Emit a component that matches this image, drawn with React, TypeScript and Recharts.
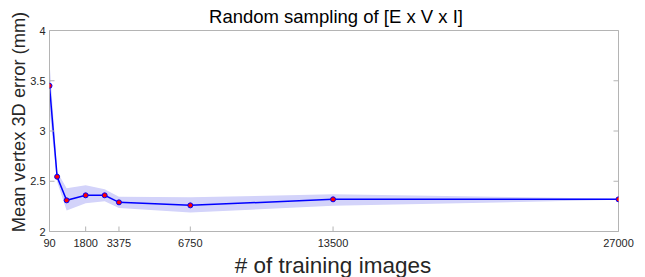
import React from 'react';
import { ComposedChart, Area, Line, XAxis, YAxis } from 'recharts';

// Number of training images (x) and mean vertex error (y, mm)
const trainingImages = [90, 450, 900, 1800, 2700, 3375, 6750, 13500, 27000];
const meanError = [3.45, 2.545, 2.31, 2.36, 2.36, 2.29, 2.26, 2.32, 2.32];
const errorLow = [3.21, 2.495, 2.21, 2.28, 2.3, 2.235, 2.19, 2.255, 2.315];
const errorHigh = [3.69, 2.595, 2.43, 2.46, 2.42, 2.345, 2.34, 2.37, 2.325];

const xTicks = [90, 1800, 3375, 6750, 13500, 27000];
const yTicks = [2, 2.5, 3, 3.5, 4];

const titleText = 'Random sampling of [E x V x I]';
const xLabelText = '# of training images';
const yLabelText = 'Mean vertex 3D error (mm)';

const data = trainingImages.map((n, i) => ({
  n,
  mean: meanError[i],
  band: [errorLow[i], errorHigh[i]],
}));

const AXIS = '#b4b4b4';
const TEXT = '#262626';
const FONT = '"Liberation Sans", Arial, Helvetica, sans-serif';

function BottomTick(props: any) {
  const { x, y, payload } = props;
  return (
    <g>
      <line x1={x} y1={y} x2={x} y2={y - 5} stroke={AXIS} strokeWidth={1} />
      <text x={x} y={y + 15.5} textAnchor="middle" fontSize={11} fontFamily={FONT} fill={TEXT}>
        {payload.value}
      </text>
    </g>
  );
}

function TopTick(props: any) {
  const { x, y } = props;
  return <line x1={x} y1={y} x2={x} y2={y + 5} stroke={AXIS} strokeWidth={1} />;
}

function LeftTick(props: any) {
  const { x, y, payload } = props;
  return (
    <g>
      <line x1={x} y1={y} x2={x + 5} y2={y} stroke={AXIS} strokeWidth={1} />
      <text x={x - 4} y={y + 4} textAnchor="end" fontSize={11} fontFamily={FONT} fill={TEXT}>
        {payload.value}
      </text>
    </g>
  );
}

function RightTick(props: any) {
  const { x, y } = props;
  return <line x1={x} y1={y} x2={x - 5} y2={y} stroke={AXIS} strokeWidth={1} />;
}

export default function App() {
  return (
    <div style={{ position: 'fixed', left: 0, top: 0, width: 645, height: 277, background: '#fff' }}>
      <ComposedChart width={645} height={277} data={data} margin={{ top: 0, right: 0, bottom: 0, left: 0 }}>
        <XAxis
          dataKey="n"
          type="number"
          domain={[90, 27000]}
          ticks={xTicks}
          interval={0}
          height={45.5}
          tickSize={0}
          tickMargin={0}
          stroke={AXIS}
          tick={<BottomTick />}
          allowDataOverflow
        />
        <XAxis
          xAxisId="top"
          orientation="top"
          type="number"
          domain={[90, 27000]}
          ticks={xTicks}
          interval={0}
          height={30.5}
          tickSize={0}
          tickMargin={0}
          stroke={AXIS}
          tick={<TopTick />}
          allowDataOverflow
        />
        <YAxis
          type="number"
          domain={[2, 4]}
          ticks={yTicks}
          interval={0}
          width={49.5}
          tickSize={0}
          tickMargin={0}
          stroke={AXIS}
          tick={<LeftTick />}
          allowDataOverflow
        />
        <YAxis
          yAxisId="right"
          orientation="right"
          type="number"
          domain={[2, 4]}
          ticks={yTicks}
          interval={0}
          width={26.5}
          tickSize={0}
          tickMargin={0}
          stroke={AXIS}
          tick={<RightTick />}
          allowDataOverflow
        />
        <Area
          dataKey="band"
          type="linear"
          stroke="none"
          fill="#d3d3fa"
          fillOpacity={1}
          isAnimationActive={false}
          activeDot={false}
        />
        <Line
          dataKey="mean"
          type="linear"
          stroke="#0000ff"
          strokeWidth={1.5}
          dot={{ r: 2.5, fill: '#ff0000', stroke: '#0000ff', strokeWidth: 1 }}
          activeDot={false}
          isAnimationActive={false}
        />
      </ComposedChart>
      <svg
        width={645}
        height={277}
        style={{ position: 'absolute', left: 0, top: 0, pointerEvents: 'none' }}
      >
        <text x={336} y={22.5} textAnchor="middle" fontSize={18.5} fontFamily={FONT} fill="#000">
          {titleText}
        </text>
        <text x={333} y={273} textAnchor="middle" fontSize={22.5} fontFamily={FONT} fill={TEXT}>
          {xLabelText}
        </text>
        <text
          x={0}
          y={0}
          transform="translate(25,122) rotate(-90)"
          textAnchor="middle"
          fontSize={18.3}
          fontFamily={FONT}
          fill={TEXT}
        >
          {yLabelText}
        </text>
      </svg>
    </div>
  );
}
